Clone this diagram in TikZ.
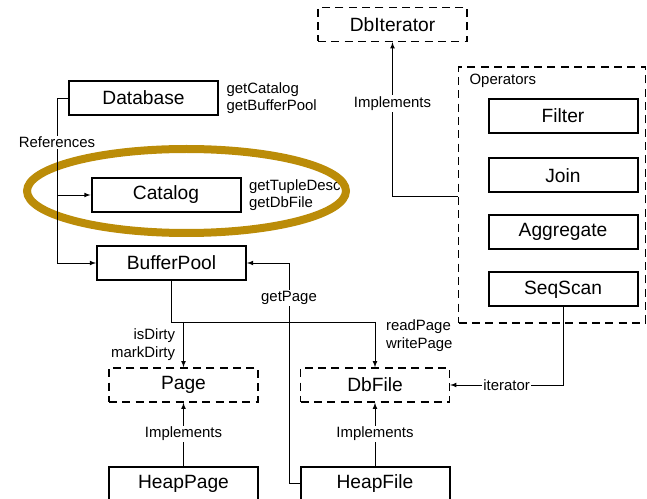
\documentclass[tikz,border=0pt]{standalone}
\usepackage{fontspec}
\setmainfont{Liberation Sans}
\usetikzlibrary{shapes,arrows}
\usetikzlibrary{positioning}
\definecolor{gold}{RGB}{187,140,8}

\begin{document}
\begin{tikzpicture}[x=0.75pt,y=-0.75pt]
\tikzstyle{classbox}=[draw=black,line width=1.5pt,minimum width=111.75pt,minimum height=25.5pt,inner sep=0pt,font=\fontsize{14.4}{16}\selectfont];
\tikzstyle{ifacebox}=[classbox,line width=1.1pt,dash pattern=on 6pt off 4pt];
\tikzstyle{lbl}=[font=\fontsize{11.2}{13}\selectfont,align=left,inner sep=1pt];
\tikzstyle{myarrow}=[line width=0.6pt,-latex];

\useasboundingbox (0,0) rectangle (647,499);

% interfaces and classes
\node[ifacebox] (iter) at (392.5,24.5) {DbIterator};
\node[classbox] (db) at (143.5,98) {Database};
\node[lbl, right=4.5pt of db] (dbops) {getCatalog\\getBufferPool};
\node[classbox] (cat) at (166,195) {Catalog};
\node[lbl, right=4.5pt of cat] (catops) {getTupleDesc\\getDbFile};
\node[classbox] (bp) at (171.5,263) {BufferPool};
\node[ifacebox] (page) at (183.5,385) {Page};
\node[ifacebox] (dbfile) at (375,385) {DbFile};
\node[classbox] (hpage) at (183.5,483.5) {HeapPage};
\node[classbox] (hfile) at (375,483.5) {HeapFile};

% operators group
\node[draw=black,line width=1.1pt,dash pattern=on 6pt off 4pt,minimum width=140.25pt,minimum height=192pt] (ops) at (552,195) {};
\node[lbl, anchor=west] (opslbl) at (468,81) {Operators};
\node[classbox] (filter) at (563,116) {Filter};
\node[classbox] (join) at (563,175.5) {Join};
\node[classbox] (agg) at (563,232) {Aggregate};
\node[classbox] (scan) at (563,289.5) {SeqScan};

% highlight
\draw[gold,line width=6pt] (186.5,191) ellipse [x radius=119.6pt, y radius=31.5pt];

% references
\coordinate (spine) at (57,0);
\draw[line width=0.6pt] (db.west) -- (db.west -| spine) -- (bp.west -| spine) node[lbl,fill=white,pos=0.27] {References};
\draw[myarrow] (cat.west -| spine) -- (cat.west);
\draw[myarrow] (bp.west -| spine) -- (bp.west);

% buffer pool calls
\coordinate (split) at (0,322);
\draw[line width=0.6pt] (bp.south) -- (bp.south |- split) -- (dbfile.north |- split);
\draw[myarrow] (page.north |- split) -- (page.north) node[lbl,anchor=east,align=right,pos=0.5,xshift=-5pt] {isDirty\\markDirty};
\draw[myarrow] (dbfile.north |- split) -- (dbfile.north) node[lbl,anchor=west,pos=0.3,xshift=7pt] {readPage\\writePage};

\coordinate (gp) at (289,0);
\draw[myarrow] (hfile.west) -- (hfile.west -| gp) -- (bp.east -| gp) node[lbl,fill=white,pos=0.84] {getPage} -- (bp.east);

% implements
\draw[myarrow] (hpage.north) -- (page.south) node[lbl,fill=white,midway] {Implements};
\draw[myarrow] (hfile.north) -- (dbfile.south) node[lbl,fill=white,midway] {Implements};
\draw[myarrow] (ops.west |- 0,196) -| (iter.south) node[lbl,fill=white,pos=0.8] {Implements};

% iterator
\draw[myarrow] (scan.south) |- (dbfile.east) node[lbl,fill=white,pos=0.75] {iterator};

\end{tikzpicture}
\end{document}
